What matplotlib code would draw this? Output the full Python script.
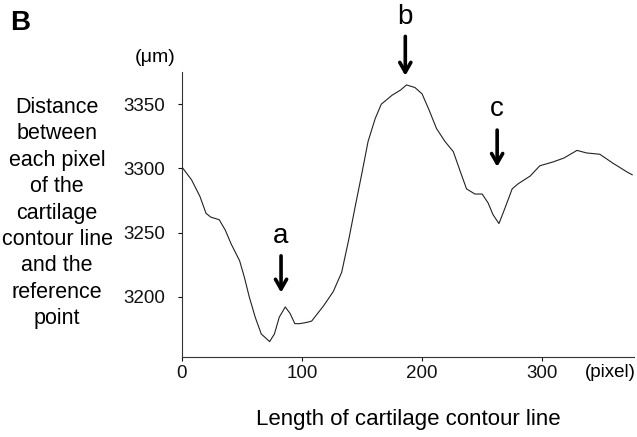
import matplotlib.pyplot as plt

plt.rcParams["font.family"] = ["Liberation Sans", "DejaVu Sans"]

# traced contour profile (pixel position, distance in um)
pos_px = [0, 8, 15, 20, 24, 31, 36, 41, 48, 52, 56, 61, 66, 73, 77, 81, 86,
          90, 94, 98, 104, 108, 118, 126, 133, 139, 144, 150, 155, 161, 166,
          175, 182, 187, 194, 200, 206, 212, 219, 226, 232, 237, 244, 250,
          255, 259, 264, 269, 275, 280, 290, 298, 309, 318, 329, 337, 348,
          359, 371, 375]
dist_um = [3301, 3291, 3278, 3265, 3262, 3260, 3252, 3241, 3228, 3215, 3200,
           3184, 3171, 3165, 3171, 3184, 3192, 3187, 3179, 3179, 3180, 3181,
           3193, 3204, 3219, 3245, 3269, 3297, 3321, 3339, 3350, 3357, 3361,
           3365, 3363, 3358, 3345, 3331, 3321, 3313, 3297, 3284, 3280, 3280,
           3273, 3264, 3257, 3269, 3284, 3288, 3294, 3302, 3305, 3308, 3314,
           3312, 3311, 3304, 3297, 3295]

yticks = [3200, 3250, 3300, 3350]
xticks = [0, 100, 200, 300]

# arrow marks: label, x, arrow tail y, arrow tip y, label y
marks = [("a", 82.5, 3234, 3201, 3247),
         ("b", 186, 3405, 3370, 3418),
         ("c", 262.5, 3332, 3299, 3346)]

fig = plt.figure(figsize=(6.37, 4.37), dpi=100)
ax = fig.add_axes([0.2857, 0.183, 0.71, 0.652])

ax.plot(pos_px, dist_um, color="#222222", lw=0.8)

ax.set_xlim(0, 376.7)
ax.set_ylim(3153, 3375)
ax.set_xticks(xticks)
ax.set_yticks(yticks)
ax.tick_params(axis="both", labelsize=13.5, length=3, width=0.8,
               direction="out", colors="#111111")
ax.tick_params(axis="y", pad=9)
ax.tick_params(axis="x", pad=2.5)
for s in ["top", "right"]:
    ax.spines[s].set_visible(False)
for s in ["left", "bottom"]:
    ax.spines[s].set_linewidth(0.8)
    ax.spines[s].set_color("#333333")

for lab, x, y0, y1, ty in marks:
    ax.annotate("", xy=(x, y1), xytext=(x, y0), annotation_clip=False,
                arrowprops=dict(arrowstyle="->,head_length=0.7,head_width=0.4",
                                lw=2.6, color="black"))
    ax.text(x, ty, lab, fontsize=20, ha="center", va="center", clip_on=False)

ax.text(357, -0.053, "(pixel)", transform=ax.get_xaxis_transform(),
        fontsize=13.5, ha="center", va="center")
ax.set_xlabel("Length of cartilage contour line", fontsize=16, labelpad=20)

fig.text(155 / 637, 1 - 57 / 437, "(\u03bcm)", fontsize=14,
         ha="center", va="center")
fig.text(57 / 637, 1 - 213 / 437,
         "Distance\nbetween\neach pixel\nof the\ncartilage\ncontour line\n"
         "and the\nreference\npoint",
         fontsize=15.5, ha="center", va="center", linespacing=1.34)
fig.text(10 / 637, 1 - 23 / 437, "B", fontsize=20, fontweight="bold",
         ha="left", va="center")

fig.savefig("out.png", dpi=100)
